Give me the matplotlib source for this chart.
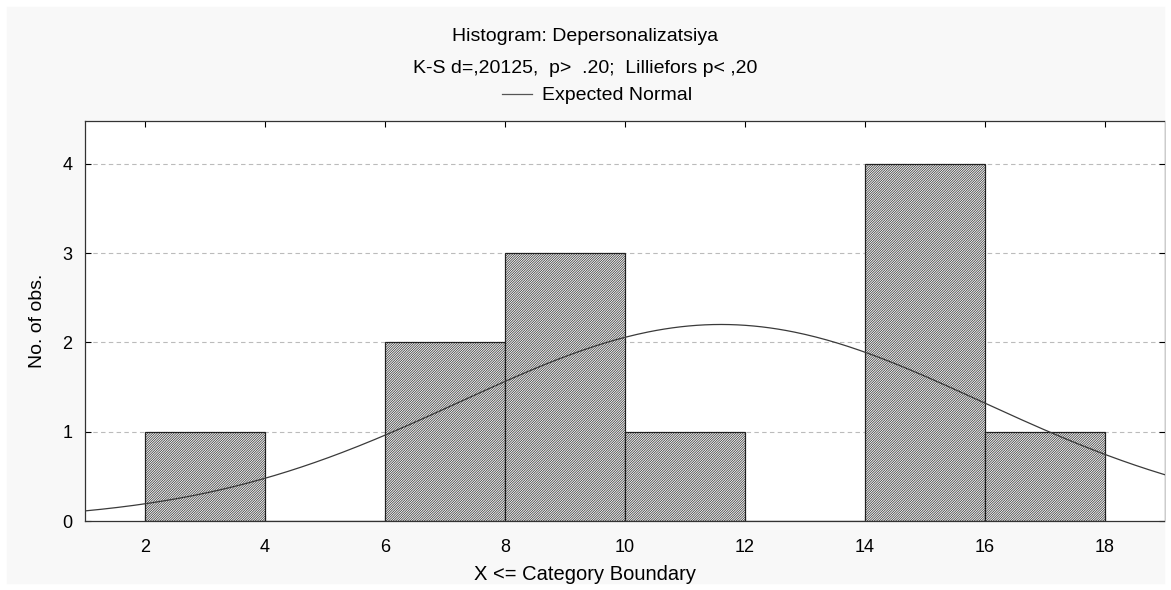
import numpy as np
import matplotlib
matplotlib.use("Agg")
import matplotlib.pyplot as plt
from matplotlib.patches import Rectangle
from matplotlib.lines import Line2D

plt.rcParams['font.family'] = ['Liberation Sans', 'DejaVu Sans']
plt.rcParams['hatch.color'] = '#7a7a7a'
plt.rcParams['hatch.linewidth'] = 0.45

bin_edges = [2, 4, 6, 8, 10, 12, 14, 16, 18]
counts = [1, 0, 2, 3, 1, 0, 4, 1]
n_obs = 12
mean_val = 11.6
sd_val = 4.35
title_lines = ["Histogram: Depersonalizatsiya",
               "K-S d=,20125,  p>  .20;  Lilliefors p< ,20"]
xticks = [2, 4, 6, 8, 10, 12, 14, 16, 18]
yticks = [0, 1, 2, 3, 4]

W, H = 1171, 590
fig = plt.figure(figsize=(W/100, H/100), dpi=100)
fig.patch.set_facecolor('#f8f8f8')
fig.add_artist(Rectangle((0, 0), 1, 1, transform=fig.transFigure,
                         fill=False, edgecolor='white', linewidth=9))
ax = fig.add_axes([85/W, 1-521/H, (1165-85)/W, (521-121)/H])
ax.set_facecolor('white')

widths = np.diff(bin_edges)
ax.bar(bin_edges[:-1], counts, width=widths, align='edge',
       facecolor='#f2f2f2', edgecolor='#222222', linewidth=0.9,
       hatch='/' * 14, zorder=2)

xs = np.linspace(1, 19, 400)
w = bin_edges[1] - bin_edges[0]
ys = n_obs * w / (sd_val * np.sqrt(2*np.pi)) * np.exp(-0.5*((xs-mean_val)/sd_val)**2)
ax.plot(xs, ys, color='#3a3a3a', linewidth=0.9, zorder=5)

ax.set_xlim(1, 19)
ax.set_ylim(0, 4.48)
ax.set_xticks(xticks)
ax.set_yticks(yticks)
ax.tick_params(direction='in', top=True, right=True, labelsize=13, length=4)
ax.tick_params(axis='x', pad=13)
ax.tick_params(axis='y', pad=9)
for y in yticks[1:]:
    ax.axhline(y, color='#bbbbbb', linestyle=(0, (4, 3)), linewidth=0.8, zorder=1)
for s in ax.spines.values():
    s.set_color('#333333')
    s.set_linewidth(0.9)

fig.text(0.5, 1-580/H, "X <= Category Boundary", ha='center', va='baseline', fontsize=14.5)
fig.text(37/W, 1-321/H, "No. of obs.", ha='center', va='center', rotation=90, fontsize=14)

fig.text(0.5, 1-41/H, title_lines[0], ha='center', va='baseline', fontsize=14)
fig.text(0.5, 1-73/H, title_lines[1], ha='center', va='baseline', fontsize=14)
fig.text(542/W, 1-100/H, "Expected Normal", ha='left', va='baseline', fontsize=14)
fig.add_artist(Line2D([502/W, 532/W], [1-94/H, 1-94/H],
                      transform=fig.transFigure, color='#555555', linewidth=0.9))

fig.savefig("out.png", dpi=100, facecolor=fig.get_facecolor())
